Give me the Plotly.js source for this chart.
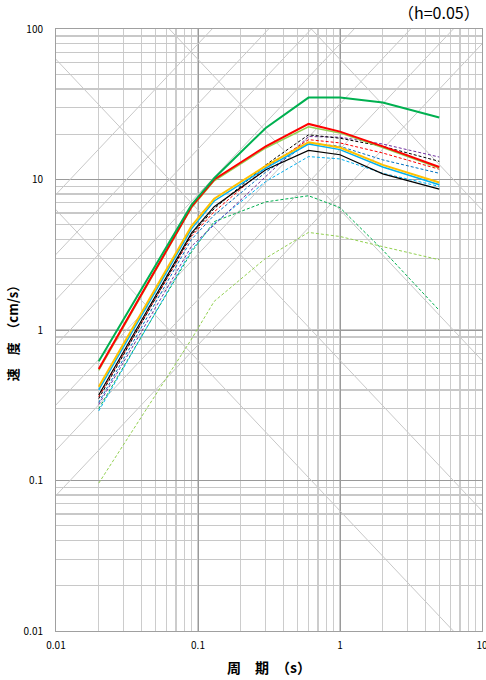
<!DOCTYPE html>
<html>
<head>
<meta charset="utf-8">
<script src="https://cdn.plot.ly/plotly-3.0.1.min.js"></script>
<style>
html,body{margin:0;padding:0;background:#fff;}
#chart{width:486px;height:680px;}
</style>
</head>
<body>
<div id="chart"></div>
<script>
// Periods (s)
const periods = [0.02, 0.09, 0.13, 0.3, 0.6, 1, 2, 5];

// Velocity response spectra (cm/s), h=0.05
const greenSolid  = [0.62, 6.8, 10.2, 22.0, 35.0, 35.0, 32.5, 25.8];
const redSolid    = [0.55, 6.6, 10.0, 16.6, 23.4, 20.8, 16.6, 12.1];
const lgreenSolid = [0.54, 6.5, 9.8, 16.2, 22.4, 20.4, 16.3, 11.9];
const yellowSolid = [0.42, 4.9, 7.45, 12.3, 17.7, 16.3, 12.5, 9.55];
const lblueSolid  = [0.40, 4.7, 7.2, 11.9, 17.2, 15.8, 12.1, 9.23];
const blackSolid  = [0.37, 4.4, 6.6, 11.6, 15.6, 14.6, 10.9, 8.63];

const blackDash   = [0.35, 4.3, 6.4, 12.5, 19.8, 18.8, 16.6, 13.2];
const purpleDash  = [0.32, 3.6, 5.0, 10.5, 19.3, 19.1, 17.2, 14.1];
const redDash     = [0.36, 4.2, 6.1, 12.0, 18.4, 17.5, 15.0, 11.7];
const blueDash    = [0.33, 4.0, 5.8, 11.2, 17.5, 16.6, 13.5, 11.0];
const lblueDash   = [0.29, 3.4, 5.1, 9.7, 14.2, 13.7, 11.0, 9.0];
const greenDash   = [0.30, 3.3, 5.25, 7.1, 7.8, 6.5, 3.4, 1.35];
const lgreenDash  = [0.096, 0.87, 1.55, 3.0, 4.45, 4.18, 3.58, 2.93];

// Tripartite reference lines: displacement (cm) and acceleration (cm/s^2)
const dispLines = [0.01, 0.1, 1, 10];
const accLines  = [50, 100, 200, 500, 1000, 2000, 5000];
const lineSpan  = [0.001, 100];

// Axis ticks
const xTicks = [0.01, 0.1, 1, 10];
const xTickText = ['0.01', '0.1', '1', '10'];
const yTicks = [0.01, 0.1, 1, 10, 100];
const yTickText = ['0.01', '0.1', '1', '10', '100'];

const traces = [];
const diagStyle = {color: '#c8c8c8', width: 1};
dispLines.forEach(d => {
  traces.push({x: lineSpan, y: lineSpan.map(t => 2 * Math.PI * d / t),
    mode: 'lines', line: diagStyle, hoverinfo: 'skip', showlegend: false});
});
accLines.forEach(a => {
  traces.push({x: lineSpan, y: lineSpan.map(t => a * t / (2 * Math.PI)),
    mode: 'lines', line: diagStyle, hoverinfo: 'skip', showlegend: false});
});

function addLine(y, color, width, dash) {
  traces.push({x: periods, y: y, mode: 'lines',
    line: {color: color, width: width, dash: dash || 'solid'}, showlegend: false});
}
const dsh = '3px,2px';
addLine(lgreenDash, '#92d050', 1, dsh);
addLine(greenDash, '#00b050', 1, dsh);
addLine(lblueDash, '#00b0f0', 1, dsh);
addLine(blueDash, '#0070c0', 1, dsh);
addLine(purpleDash, '#7030a0', 1, dsh);
addLine(redDash, '#ff0000', 1, dsh);
addLine(blackDash, '#000000', 1, dsh);
addLine(lgreenSolid, '#92d050', 1.5);
addLine(blackSolid, '#000000', 1.2);
addLine(lblueSolid, '#00b0f0', 1.5);
addLine(yellowSolid, '#ffc000', 2);
addLine(redSolid, '#ff0000', 2);
addLine(greenSolid, '#00b050', 2);

const fontJP = 'Noto Sans CJK JP, sans-serif';
const layout = {
  width: 486, height: 680,
  margin: {l: 56, r: 4, t: 29, b: 49},
  paper_bgcolor: '#fff', plot_bgcolor: '#fff',
  font: {family: fontJP, color: '#000', size: 10},
  xaxis: {
    type: 'log', range: [-2, 1],
    tickmode: 'array', tickvals: xTicks, ticktext: xTickText,
    ticks: 'outside', ticklen: 5, tickcolor: 'rgba(0,0,0,0)',
    ticklabeloverflow: 'allow',
    showgrid: true, gridcolor: '#9a9a9a', gridwidth: 1,
    minor: {dtick: 'D1', showgrid: true, gridcolor: '#cccccc', gridwidth: 1.3, ticks: ''},
    showline: true, linecolor: '#a0a0a0', linewidth: 1, mirror: true,
    zeroline: false,
    tickfont: {family: fontJP, size: 10},
    title: {text: '周　期　（s）', font: {family: fontJP, size: 14, weight: 'bold'}, standoff: 12}
  },
  yaxis: {
    type: 'log', range: [-2, 2],
    tickmode: 'array', tickvals: yTicks, ticktext: yTickText,
    ticks: 'outside', ticklen: 10, tickcolor: 'rgba(0,0,0,0)',
    showgrid: true, gridcolor: '#9a9a9a', gridwidth: 1,
    minor: {dtick: 'D1', showgrid: true, gridcolor: '#c8c8c8', gridwidth: 1.3, ticks: ''},
    showline: true, linecolor: '#a0a0a0', linewidth: 1, mirror: true,
    zeroline: false,
    tickfont: {family: fontJP, size: 10},
    title: {text: '速　度　（cm/s）', font: {family: fontJP, size: 13, weight: 'bold'}, standoff: 2}
  },
  annotations: [{
    text: '（h=0.05）', xref: 'paper', yref: 'paper', x: 1, y: 1,
    xanchor: 'right', yanchor: 'bottom', yshift: 3, showarrow: false,
    font: {family: fontJP, size: 16, color: '#000'}
  }]
};

Plotly.newPlot('chart', traces, layout, {staticPlot: true, displayModeBar: false});
</script>
</body>
</html>
